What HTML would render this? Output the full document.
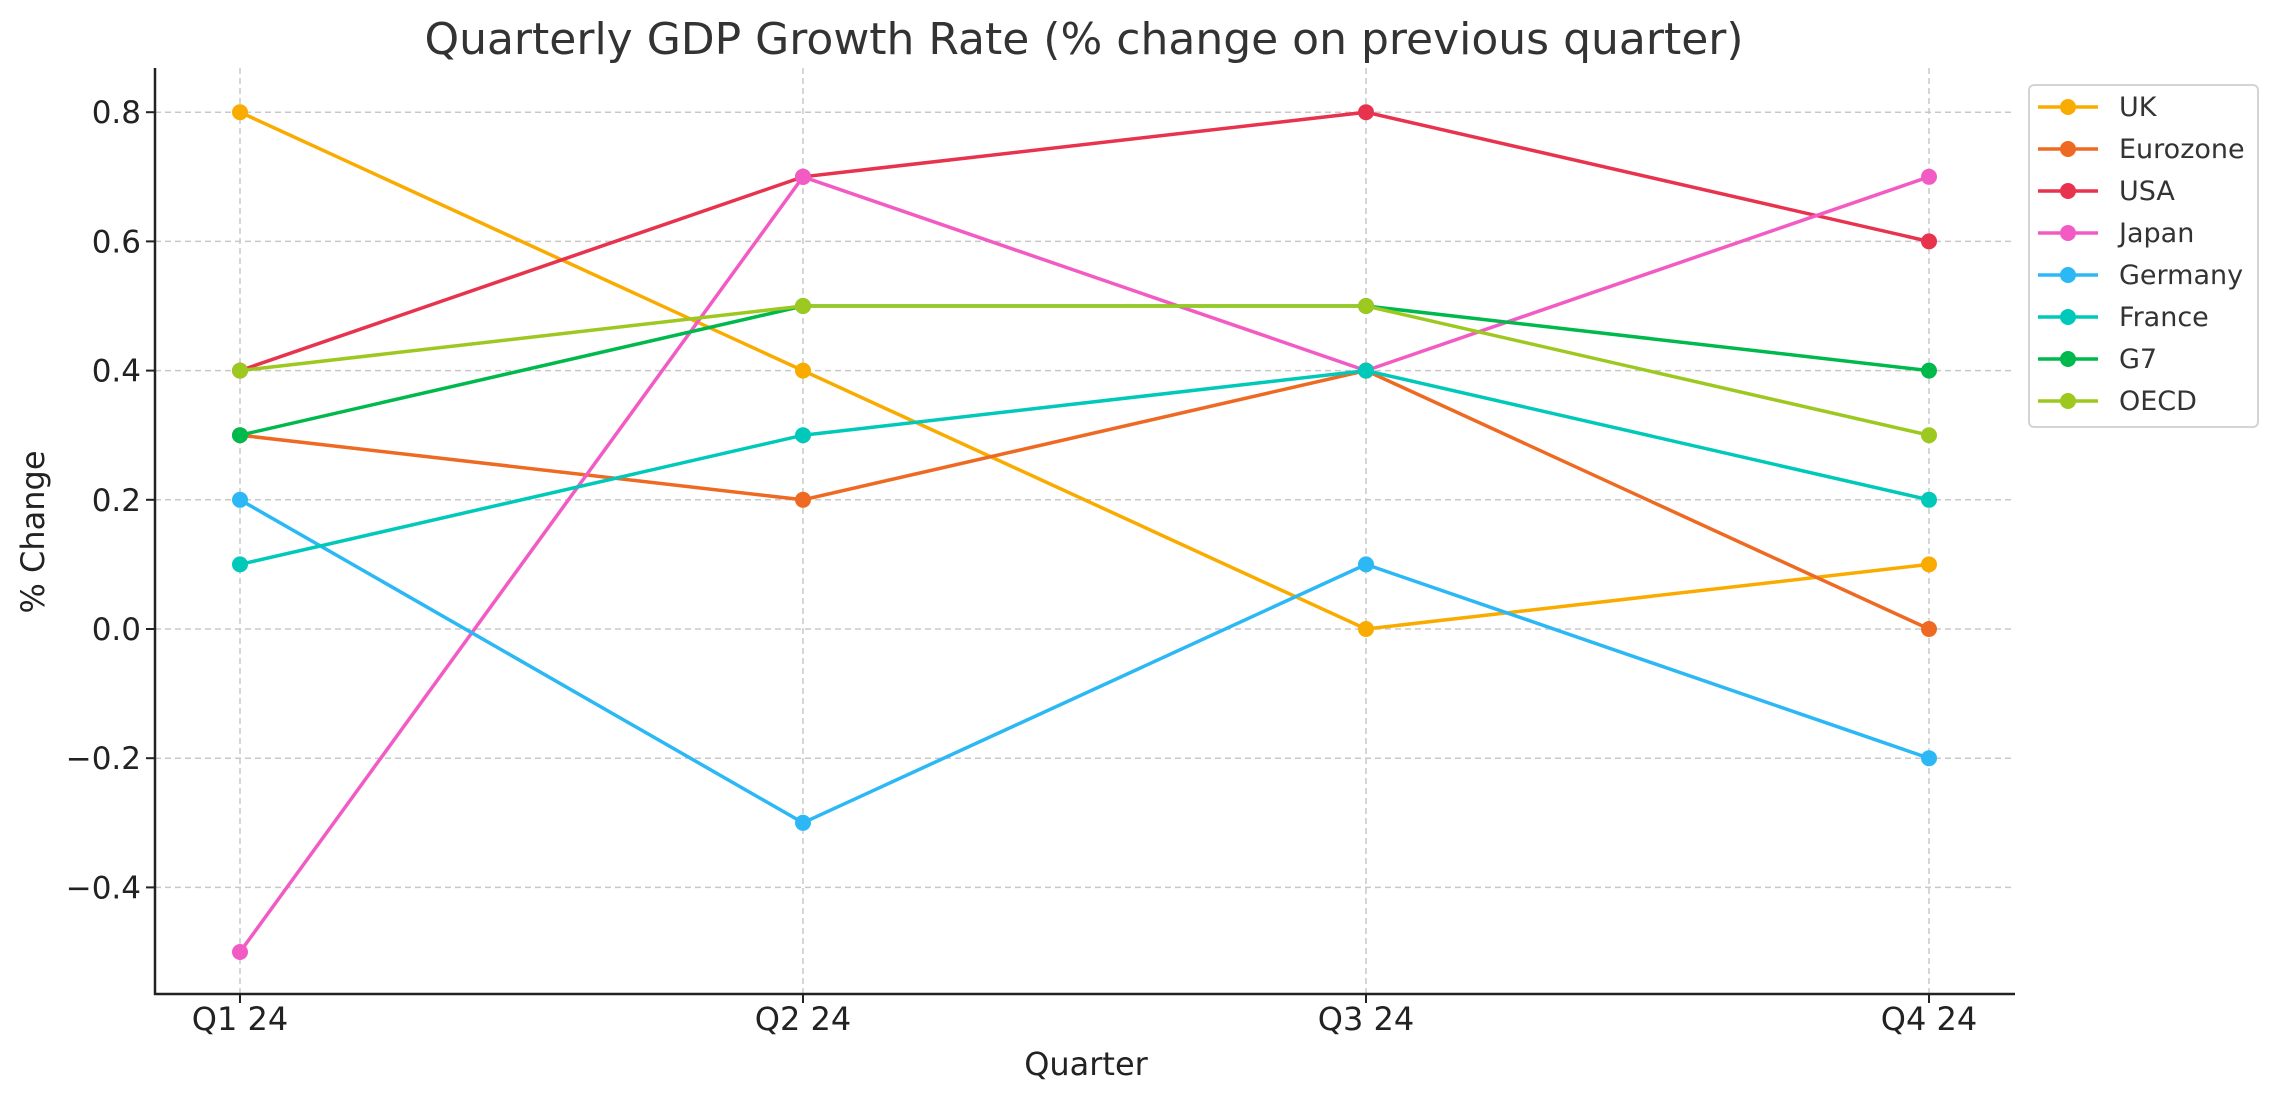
<!DOCTYPE html>
<html><head><meta charset="utf-8"><style>
html,body{margin:0;padding:0;background:#fff;}
svg{display:block;font-family:"DejaVu Sans","Liberation Sans",sans-serif;}
</style></head><body>
<svg id="chart" width="2278" height="1101" viewBox="0 0 2278 1101" xmlns="http://www.w3.org/2000/svg">
<rect width="2278" height="1101" fill="#fff"/>
<text x="1084" y="54" text-anchor="middle" font-size="44" fill="#333">Quarterly GDP Growth Rate (% change on previous quarter)</text>
<g id="grid"></g><g id="axes"></g><g id="series"></g><g id="legend"></g>
<text x="1086" y="1075" text-anchor="middle" font-size="32" fill="#222">Quarter</text>
<text transform="translate(44,532) rotate(-90)" text-anchor="middle" font-size="32" fill="#222">% Change</text>
</svg>
<script>
const categories = ["Q1 24","Q2 24","Q3 24","Q4 24"];
const seriesNames = ["UK","Eurozone","USA","Japan","Germany","France","G7","OECD"];
const uk = [0.8,0.4,0.0,0.1];
const eurozone = [0.3,0.2,0.4,0.0];
const usa = [0.4,0.7,0.8,0.6];
const japan = [-0.5,0.7,0.4,0.7];
const germany = [0.2,-0.3,0.1,-0.2];
const france = [0.1,0.3,0.4,0.2];
const g7 = [0.3,0.5,0.5,0.4];
const oecd = [0.4,0.5,0.5,0.3];
const yTicks = [-0.4,-0.2,0.0,0.2,0.4,0.6,0.8];
const yTickLabels = ["\u22120.4","\u22120.2","0.0","0.2","0.4","0.6","0.8"];

const seriesValues=[uk,eurozone,usa,japan,germany,france,g7,oecd];
const colors=["#f9ab00","#ee6a23","#e8334e","#f35bc4","#2bb8f5","#00c9b9","#00b94d","#9cc820"];
const NS="http://www.w3.org/2000/svg";
const L=155,R=2015,T=68,B=994;
function xs(i){return 240+i*(1929-240)/(categories.length-1);}
function ys(v){return 629-v*646;}
function mk(tag,attrs,parent){const e=document.createElementNS(NS,tag);for(const k in attrs)e.setAttribute(k,attrs[k]);parent.appendChild(e);return e;}
const grid=document.getElementById('grid'),axes=document.getElementById('axes'),ser=document.getElementById('series'),leg=document.getElementById('legend');
yTicks.forEach((v,i)=>{
  const g=mk('line',{x1:L,x2:R,y1:ys(v),y2:ys(v),stroke:'#c8c8c8','stroke-width':1.5,'stroke-dasharray':'6,4'},grid);
  
  
  mk('line',{x1:L-9,x2:L,y1:ys(v),y2:ys(v),stroke:'#222','stroke-width':2},axes);
  const t=mk('text',{x:L-14,y:ys(v)+11,'text-anchor':'end','font-size':31,fill:'#222'},axes);
  t.textContent=yTickLabels[i];
  
  
});
categories.forEach((c,i)=>{
  const g=mk('line',{x1:xs(i),x2:xs(i),y1:T,y2:B,stroke:'#c8c8c8','stroke-width':1.5,'stroke-dasharray':'6,4'},grid);
  
  
  mk('line',{x1:xs(i),x2:xs(i),y1:B,y2:B+9,stroke:'#222','stroke-width':2},axes);
  const t=mk('text',{x:xs(i),y:B+36,'text-anchor':'middle','font-size':32,fill:'#222'},axes);
  t.textContent=c;
  
  
});
mk('line',{x1:L,x2:L,y1:T,y2:B+1,stroke:'#222','stroke-width':2.5},axes);
mk('line',{x1:L-1,x2:R,y1:B,y2:B,stroke:'#222','stroke-width':2.5},axes);
seriesValues.forEach((vals,s)=>{
  const g=mk('g',{},ser);
  
  
  mk('polyline',{points:vals.map((v,i)=>xs(i)+','+ys(v)).join(' '),fill:'none',stroke:colors[s],'stroke-width':3.5},g);
  vals.forEach((v,i)=>{
    const c=mk('circle',{cx:xs(i),cy:ys(v),r:8,fill:colors[s]},g);
    
    
  });
});
const box=mk('rect',{x:2029,y:85,width:229,height:342,rx:5,fill:'#fff','fill-opacity':0.85,stroke:'#d4d4d4','stroke-width':2},leg);


seriesNames.forEach((n,s)=>{
  const y=107+s*42;
  const g=mk('g',{},leg);
  
  
  mk('line',{x1:2038,x2:2098,y1:y,y2:y,stroke:colors[s],'stroke-width':3.5},g);
  mk('circle',{cx:2068,cy:y,r:8,fill:colors[s]},g);
  const t=mk('text',{x:2119,y:y+9,'font-size':27,fill:'#333'},g);
  t.textContent=n;
});
</script>
</body></html>
